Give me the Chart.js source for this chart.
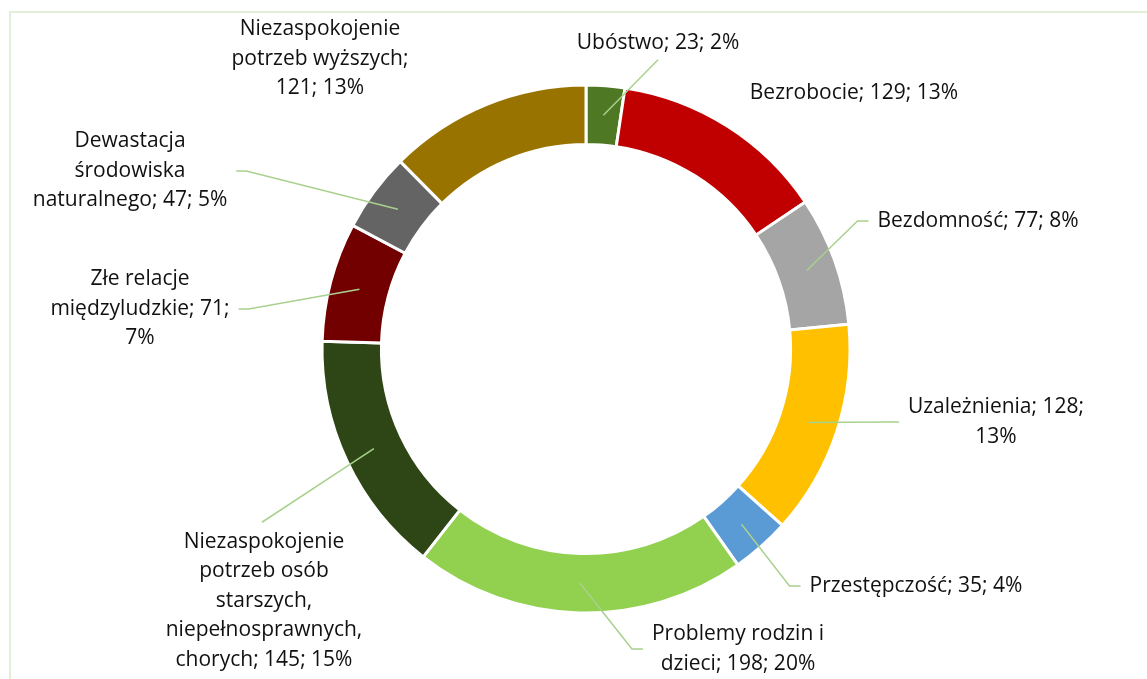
<!DOCTYPE html>
<html lang="pl">
<head>
<meta charset="utf-8">
<title>Problemy społeczne</title>
<script src="https://cdn.jsdelivr.net/npm/chart.js@4.4.1/dist/chart.umd.min.js"></script>
<style>
  html, body { margin: 0; padding: 0; background: #fff; }
  canvas { display: block; }
</style>
</head>
<body>
<canvas id="problemsChart" width="1147" height="679"></canvas>
<script>
// Categories, counts and shares (as printed in the labels)
const categories = [
  'Ubóstwo',
  'Bezrobocie',
  'Bezdomność',
  'Uzależnienia',
  'Przestępczość',
  'Problemy rodzin i dzieci',
  'Niezaspokojenie potrzeb osób starszych, niepełnosprawnych, chorych',
  'Złe relacje międzyludzkie',
  'Dewastacja środowiska naturalnego',
  'Niezaspokojenie potrzeb wyższych'
];
const counts = [23, 129, 77, 128, 35, 198, 145, 71, 47, 121];
const percents = [2, 13, 8, 13, 4, 20, 15, 7, 5, 13];

const sliceColors = [
  '#4E7824', '#C00000', '#A5A5A5', '#FFC000', '#5B9BD5',
  '#92D050', '#2E4616', '#720000', '#646464', '#997300'
];

// words per line for each label
const wrapWords = [
  [3], [3], [3], [2, 1], [3], [3, 3], [1, 2, 1, 1, 3], [2, 2, 1], [1, 1, 3], [1, 2, 2]
];

// label block centre relative to the doughnut centre, and where the leader meets it
const labelLayout = [
  { dx: 72,   dy: -306, attach: 'bottom' },
  { dx: 268,  dy: -256, attach: null },
  { dx: 392,  dy: -128, attach: 'left' },
  { dx: 410,  dy: 73,   attach: 'left' },
  { dx: 330,  dy: 237,  attach: 'left' },
  { dx: 152,  dy: 300,  attach: 'left' },
  { dx: -322, dy: 252,  attach: 'top' },
  { dx: -446, dy: -40,  attach: 'right' },
  { dx: -456, dy: -178, attach: 'right' },
  { dx: -266, dy: -290, attach: null }
];

const FONT = '21px "Open Sans", Lato, sans-serif';
const LINE_H = 29.5;

function labelLines(i) {
  const words = `${categories[i]}; ${counts[i]}; ${percents[i]}%`.split(' ');
  const lines = [];
  let k = 0;
  wrapWords[i].forEach(n => {
    lines.push(words.slice(k, k + n).join(' '));
    k += n;
  });
  return lines;
}

const frame = {
  id: 'frame',
  beforeDraw(chart) {
    const ctx = chart.ctx;
    ctx.save();
    ctx.strokeStyle = '#E2EFD9';
    ctx.lineWidth = 2;
    ctx.strokeRect(10, 12, chart.width + 20, chart.height + 20);
    ctx.restore();
  }
};

const sliceLabels = {
  id: 'sliceLabels',
  afterDatasetsDraw(chart) {
    const ctx = chart.ctx;
    const arcs = chart.getDatasetMeta(0).data;
    ctx.save();
    ctx.font = FONT;
    ctx.textAlign = 'center';
    ctx.textBaseline = 'middle';
    arcs.forEach((arc, i) => {
      const { x, y, startAngle, endAngle, innerRadius, outerRadius } =
        arc.getProps(['x', 'y', 'startAngle', 'endAngle', 'innerRadius', 'outerRadius'], true);
      const lay = labelLayout[i];
      const lines = labelLines(i);
      const cx = x + lay.dx;
      const cy = y + lay.dy;
      const blockH = lines.length * LINE_H;
      const top = cy - blockH / 2;
      const widths = lines.map(l => ctx.measureText(l).width);
      const w = Math.max(...widths);

      if (lay.attach) {
        const mid = (startAngle + endAngle) / 2;
        const r = (innerRadius + outerRadius) / 2;
        const sx = x + Math.cos(mid) * r;
        const sy = y + Math.sin(mid) * r;
        const pts = [[sx, sy]];
        if (lay.attach === 'left') {
          const ex = cx - w / 2 - 9;
          pts.push([ex - 11, cy], [ex, cy]);
        } else if (lay.attach === 'right') {
          const ex = cx + w / 2 + 9;
          pts.push([ex + 10, cy], [ex, cy]);
        } else if (lay.attach === 'bottom') {
          pts.push([cx, top + blockH + 2]);
        } else {
          pts.push([cx - 2, top - 5]);
        }
        ctx.strokeStyle = '#A9D18E';
        ctx.lineWidth = 1.5;
        ctx.beginPath();
        pts.forEach((p, k) => (k ? ctx.lineTo(p[0], p[1]) : ctx.moveTo(p[0], p[1])));
        ctx.stroke();
      }

      ctx.fillStyle = '#111';
      lines.forEach((l, k) => ctx.fillText(l, cx, top + LINE_H * (k + 0.5)));
    });
    ctx.restore();
  }
};

new Chart(document.getElementById('problemsChart'), {
  type: 'doughnut',
  data: {
    labels: categories,
    datasets: [{
      data: counts,
      backgroundColor: sliceColors,
      borderColor: '#fff',
      borderWidth: 3
    }]
  },
  options: {
    responsive: false,
    animation: false,
    cutout: '77.5%',
    radius: 264,
    layout: { padding: { left: 323, right: 298, top: 85, bottom: 66 } },
    plugins: {
      legend: { display: false },
      tooltip: { enabled: false }
    }
  },
  plugins: [frame, sliceLabels]
});
</script>
</body>
</html>
